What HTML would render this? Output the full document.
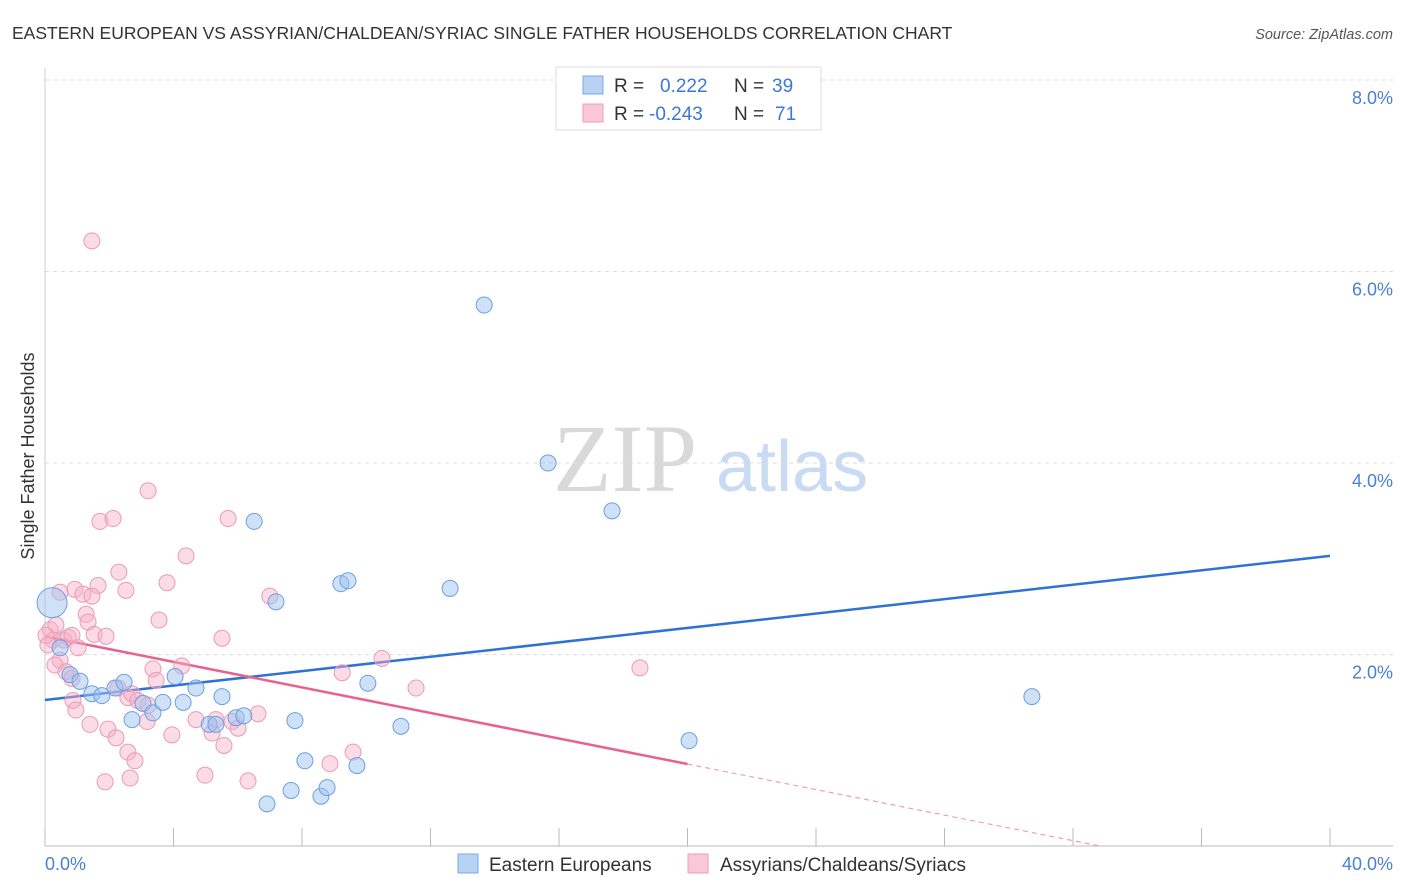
<!DOCTYPE html>
<html><head><meta charset="utf-8"><style>
body{margin:0;background:#fff;font-family:"Liberation Sans",sans-serif;}
svg{display:block}
</style></head><body>
<svg id="chart" width="1406" height="892">
<text x="12" y="39" font-size="17.5" fill="#333">EASTERN EUROPEAN VS ASSYRIAN/CHALDEAN/SYRIAC SINGLE FATHER HOUSEHOLDS CORRELATION CHART</text>
<text x="1393" y="39" font-size="14.5" fill="#555" font-style="italic" text-anchor="end">Source: ZipAtlas.com</text>
<g>
<text x="553" y="491" font-size="96" fill="#d9d9d9" font-family="Liberation Serif,serif">ZIP</text>
<text x="716" y="491" font-size="72" fill="#c9daf3">atlas</text>
</g>
<g id="grid"></g>
<g id="axes"></g>
<g id="lines"></g>
<g id="points"></g>
<text transform="translate(34,456) rotate(-90)" font-size="18" fill="#333" text-anchor="middle">Single Father Households</text>
<g>
<rect x="556" y="67" width="265" height="63" fill="#fff" stroke="#ddd"/>
<rect x="583" y="76" width="20" height="18" fill="#b8d2f4" stroke="#7aa8e6"/>
<text x="614" y="92" font-size="19" fill="#333">R = </text><text x="660" y="92" font-size="19" fill="#3a78d6">0.222</text>
<text x="734" y="92" font-size="19" fill="#333">N = </text><text x="772" y="92" font-size="19" fill="#3a78d6">39</text>
<rect x="583" y="104" width="20" height="18" fill="#f9c7d7" stroke="#ec9cb8"/>
<text x="614" y="120" font-size="19" fill="#333">R = </text><text x="649" y="120" font-size="19" fill="#3a78d6">-0.243</text>
<text x="734" y="120" font-size="19" fill="#333">N = </text><text x="775" y="120" font-size="19" fill="#3a78d6">71</text>
</g>
<g>
<rect x="458" y="854" width="20" height="19" fill="#b8d2f4" stroke="#7aa8e6"/>
<text x="489" y="871" font-size="19" fill="#333">Eastern Europeans</text>
<rect x="688" y="854" width="20" height="19" fill="#f9c7d7" stroke="#ec9cb8"/>
<text x="720" y="871" font-size="19" fill="#333">Assyrians/Chaldeans/Syriacs</text>
</g>
</svg>
<script>
const xTicks=[0,4,8,12,16,20,24,28,32,36,40];
const yTicks=[2,4,6,8];
const yTickLabels=["2.0%","4.0%","6.0%","8.0%"];
const xAxisLabels=["0.0%","40.0%"];
const blueX=[0.22,13.67,15.66,17.65,6.51,9.21,9.43,12.61,7.19,0.78,1.09,1.46,1.77,2.18,2.46,2.71,3.05,3.36,3.67,4.05,4.30,4.70,5.11,5.32,5.51,5.95,6.19,7.78,10.05,11.08,8.09,9.71,7.66,8.59,8.78,6.91,30.72,20.05,0.47];
const blueY=[2.54,5.65,4.00,3.50,3.39,2.74,2.77,2.69,2.55,1.79,1.72,1.59,1.57,1.65,1.71,1.32,1.49,1.39,1.50,1.77,1.50,1.65,1.27,1.27,1.56,1.34,1.36,1.31,1.70,1.25,0.89,0.84,0.58,0.52,0.61,0.44,1.56,1.10,2.07];
const pinkX=[1.46,3.21,1.71,2.12,5.70,4.39,2.30,1.65,2.52,3.80,7.00,0.47,0.93,1.18,1.46,3.55,5.51,0.16,0.34,0.59,0.72,0.84,1.03,1.28,1.34,1.53,1.90,0.25,0.47,0.31,0.65,0.84,3.36,3.46,4.26,9.25,10.49,11.55,18.52,2.27,2.58,2.71,2.89,3.21,0.87,0.96,1.40,1.96,2.21,2.58,2.80,3.18,3.95,4.70,5.20,5.32,5.57,5.82,6.01,6.63,4.98,6.32,1.87,2.65,8.87,9.59,0.03,0.09];
const pinkY=[6.32,3.71,3.39,3.42,3.42,3.03,2.86,2.72,2.67,2.75,2.61,2.65,2.68,2.63,2.61,2.36,2.17,2.26,2.31,2.15,2.18,2.20,2.07,2.42,2.34,2.21,2.19,2.15,1.94,1.89,1.82,1.75,1.85,1.73,1.88,1.81,1.96,1.65,1.86,1.65,1.55,1.59,1.52,1.47,1.52,1.42,1.27,1.22,1.13,0.98,0.89,1.30,1.16,1.32,1.18,1.32,1.05,1.30,1.23,1.38,0.74,0.68,0.67,0.71,0.86,0.98,2.20,2.10];
const blueTrend=[1.525,3.03];
const pinkTrend=[2.19,0.856];
const X=v=>45+v*32.125, Y=v=>846-v*95.75;
const NS="http://www.w3.org/2000/svg";
function mk(tag,attrs,parent){const e=document.createElementNS(NS,tag);for(const k in attrs)e.setAttribute(k,attrs[k]);document.getElementById(parent).appendChild(e);return e;}
yTicks.forEach((t,i)=>{
 const g=mk('line',{x1:45,x2:1393,y1:Y(t),y2:Y(t),stroke:'#ddd','stroke-dasharray':'4,4'},'grid');
 
 
 const l=mk('text',{x:1393,y:Y(t)+24,'font-size':18,fill:'#4a7fd6','text-anchor':'end'},'axes');
 l.textContent=yTickLabels[i];
 
 
});
const ax=mk('line',{x1:45,x2:1393,y1:846,y2:846,stroke:'#bbb'},'axes');


const ay=mk('line',{x1:45,x2:45,y1:68,y2:846,stroke:'#ccc'},'axes');


xTicks.forEach(t=>{
 const k=mk('line',{x1:X(t),x2:X(t),y1:828,y2:846,stroke:'#bbb'},'axes');
 
 
});
const xl0=mk('text',{x:45,y:870,'font-size':18,fill:'#4a7fd6'},'axes');xl0.textContent=xAxisLabels[0];


const xl1=mk('text',{x:1393,y:870,'font-size':18,fill:'#4a7fd6','text-anchor':'end'},'axes');xl1.textContent=xAxisLabels[1];


function pt(x,y,r,fill,stroke,name){const c=mk('circle',{cx:X(x),cy:Y(y),r:r,fill:fill,stroke:stroke,'stroke-width':1},'points');
 
 }
pinkX.forEach((x,i)=>pt(x,pinkY[i],8,'rgba(246,176,200,0.45)','#ea9ab7','point-assyrian'));
blueX.forEach((x,i)=>pt(x,blueY[i],i===0?15:8,'rgba(160,195,240,0.5)','#6d9fe0','point-eastern'));
const bl=mk('line',{x1:X(0),y1:Y(blueTrend[0]),x2:X(40),y2:Y(blueTrend[1]),stroke:'#2f72d6','stroke-width':2.5},'lines');


const pl=mk('line',{x1:X(0),y1:Y(pinkTrend[0]),x2:X(20),y2:Y(pinkTrend[1]),stroke:'#e8628f','stroke-width':2.5},'lines');


const slope=(pinkTrend[1]-pinkTrend[0])/20, xEnd=-pinkTrend[0]/slope;
const pd=mk('line',{x1:X(20),y1:Y(pinkTrend[1]),x2:X(xEnd),y2:Y(0),stroke:'#e8a0b8','stroke-width':1.2,'stroke-dasharray':'5,4'},'lines');


</script>
</body></html>
